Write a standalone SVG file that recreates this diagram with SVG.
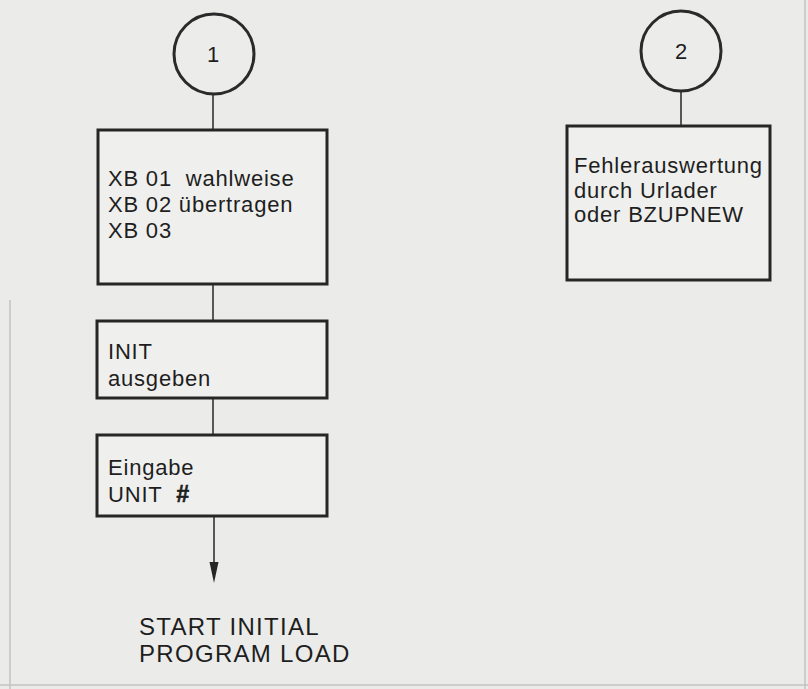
<svg xmlns="http://www.w3.org/2000/svg" width="808" height="689" viewBox="0 0 808 689">
<defs>
<style>
.bg{fill:#ebebe9}
.box{fill:#efefed;stroke:#262626;stroke-width:3}
.circ{fill:#ececea;stroke:#2a2a2a;stroke-width:3}
.con{stroke:#333;stroke-width:1.6;fill:none}
.t{font-family:"Liberation Sans",Arial,sans-serif;font-size:22px;fill:#1e1e1e;letter-spacing:0.8px;white-space:pre}
.num{font-family:"Liberation Sans",Arial,sans-serif;font-size:22px;fill:#1e1e1e;text-anchor:middle}
.big{font-family:"Liberation Sans",Arial,sans-serif;font-size:24px;fill:#1e1e1e;letter-spacing:1.3px}
.hash{font-weight:bold;font-style:italic;font-size:23px;stroke:#1e1e1e;stroke-width:0.6}
.frame{stroke:#c4c4c2;stroke-width:1.5;fill:none}
</style>
</defs>
<rect class="bg" x="0" y="0" width="808" height="689"/>
<path class="frame" d="M10,300 L10,689 M0,685 L808,685 M805,0 L805,689"/>
<g id="connectors">
<line class="con" x1="213" y1="95" x2="213" y2="130"/>
<line class="con" x1="681" y1="91" x2="681" y2="126"/>
<line class="con" x1="213" y1="284" x2="213" y2="321"/>
<line class="con" x1="213" y1="398" x2="213" y2="435"/>
<line class="con" x1="214" y1="516" x2="214" y2="562"/>
<path d="M209.5,562 L218.5,562 L214,583 Z" fill="#262626"/>
</g>
<g id="c1">
<circle class="circ" cx="214" cy="54" r="40"/>
<text class="num" x="213" y="62">1</text>
</g>
<g id="c2">
<circle class="circ" cx="681" cy="51" r="40"/>
<text class="num" x="681" y="59">2</text>
</g>
<g id="b1">
<rect class="box" x="98" y="130" width="229" height="154"/>
<text class="t" x="108" y="186">XB 01  wahlweise</text>
<text class="t" x="108" y="212">XB 02 übertragen</text>
<text class="t" x="108" y="238">XB 03</text>
</g>
<g id="b2">
<rect class="box" x="567" y="126" width="203" height="154"/>
<text class="t" x="574" y="173">Fehlerauswertung</text>
<text class="t" x="574" y="198">durch Urlader</text>
<text class="t" x="574" y="222">oder BZUPNEW</text>
</g>
<g id="b3">
<rect class="box" x="97" y="321" width="230" height="77"/>
<text class="t" x="108" y="359">INIT</text>
<text class="t" x="108" y="386">ausgeben</text>
</g>
<g id="b4">
<rect class="box" x="97" y="435" width="230" height="81"/>
<text class="t" x="108" y="475">Eingabe</text>
<text class="t" x="108" y="502">UNIT  <tspan class="hash">#</tspan></text>
</g>
<g id="end">
<text class="big" x="139" y="635">START INITIAL</text>
<text class="big" x="139" y="662">PROGRAM LOAD</text>
</g>
</svg>
